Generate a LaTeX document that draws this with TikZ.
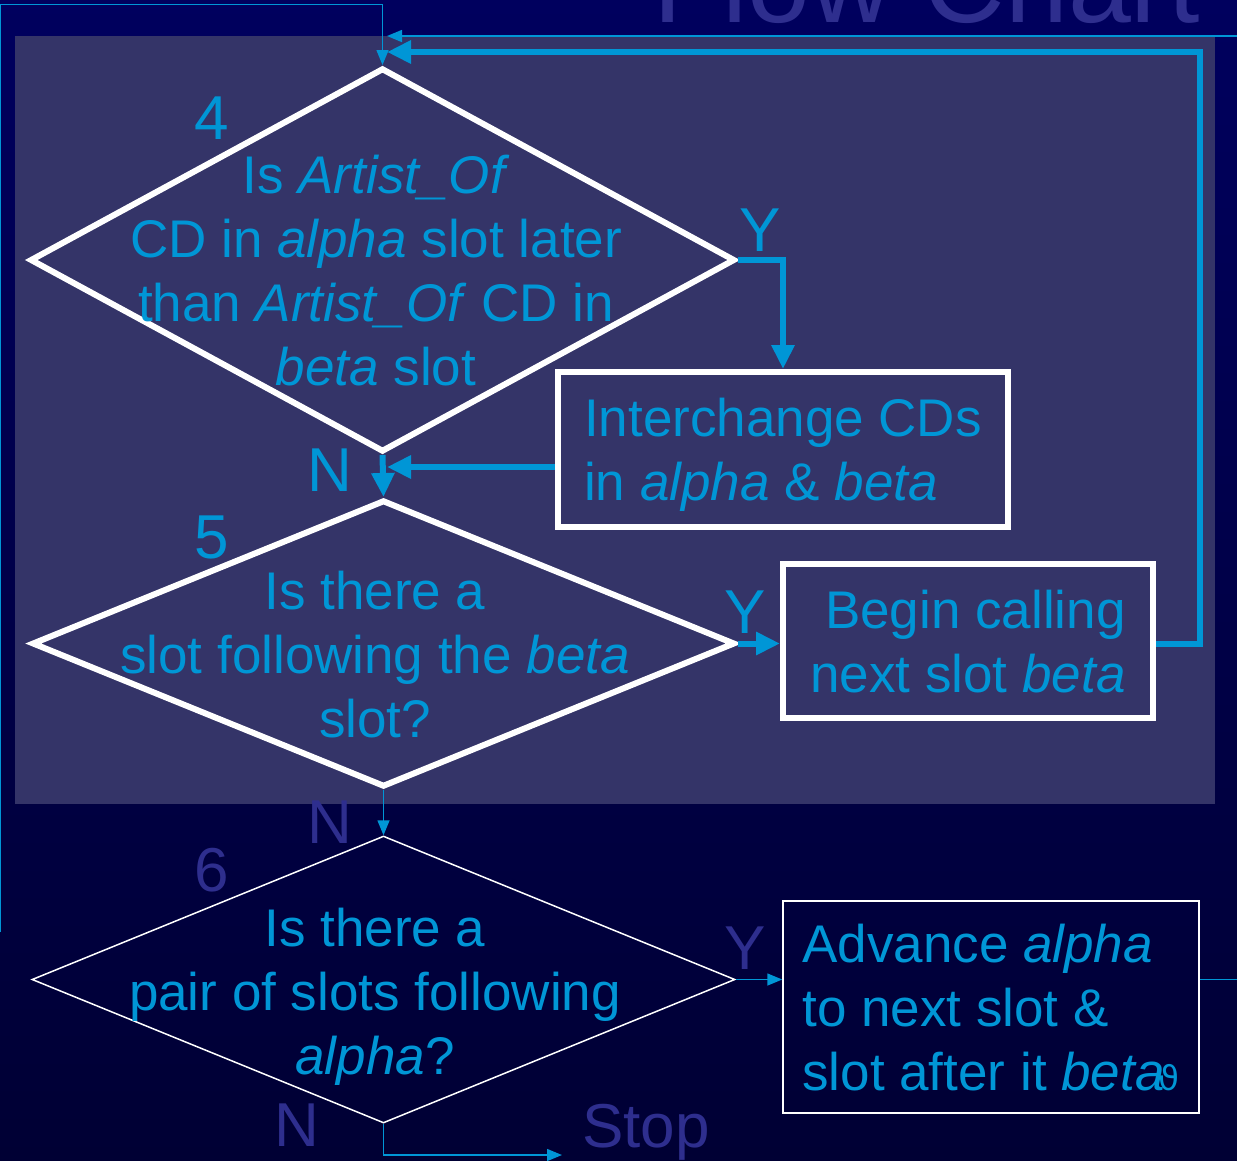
\documentclass[tikz,border=0pt]{standalone}
\usepackage{fontspec}
\setmainfont{Liberation Sans}
\newfontfamily\symfont{DejaVu Sans}
\usetikzlibrary{arrows.meta,shapes.geometric}
\definecolor{bgtop}{RGB}{0,0,94}
\definecolor{bgbot}{RGB}{0,0,52}
\definecolor{panel}{RGB}{52,52,104}
\definecolor{cdblue}{RGB}{0,150,214}
\definecolor{dimtext}{RGB}{46,46,142}
\tikzset{
  ques/.style={diamond, draw=white, line width=6pt, inner sep=0pt, minimum width=705pt, minimum height=384pt},
  qtext/.style={text=cdblue, align=center, inner sep=0pt, font=\fontsize{53}{64}\selectfont},
  act/.style={draw=white, line width=6pt, inner sep=0pt, text=cdblue, text depth=0pt, font=\fontsize{53}{64}\selectfont},
  lbl/.style={inner sep=0pt, font=\fontsize{62}{62}\selectfont},
  fatarrow/.style={draw=cdblue, line width=6pt, -{Triangle[length=24pt,width=22pt]}},
  slimarrow/.style={draw=cdblue, line width=1.5pt, -{Triangle[length=15pt,width=12pt]}},
}
\begin{document}
\begin{tikzpicture}[x=1pt,y=-1pt]
\useasboundingbox (0,0) rectangle (1237,1160);
\shade[top color=bgtop, bottom color=bgbot] (0,0) rectangle (1237,1160);
\node[anchor=base, text=dimtext, inner sep=0pt, font=\fontsize{113}{113}\selectfont] (ttl) at (927,22) {Flow Chart};
\fill[panel] (15,36) rectangle (1215,804);

\node[ques] (d4) at (382.5,260) {};
\node[ques, minimum width=703pt, minimum height=287pt] (d5) at (383.5,643.5) {};
\node[ques, line width=1.5pt, minimum width=703pt, minimum height=287pt] (d6) at (383.5,979.5) {};
\node[qtext] (q4) at (376,271) {Is \textit{Artist\_Of}\\CD in \textit{alpha} slot later\\than \textit{Artist\_Of} CD in\\\textit{beta} slot};
\node[qtext] (q5) at (375,655) {Is there a\\slot following the \textit{beta}\\slot?};
\node[qtext] (q6) at (375,997) {Is there a\\pair of slots following\\\textit{alpha}?};

\node[act, minimum width=450pt, minimum height=155pt, align=left] (ic) at (783,449.5) {Interchange CDs\\in \textit{alpha} \& \textit{beta}};
\node[act, minimum width=370pt, minimum height=154pt, align=right] (bc) at (968,641) {Begin calling\\next slot \textit{beta}};
\node[act, line width=1.5pt, minimum width=416pt, minimum height=212pt, align=left] (adv) at (991,1007) {Advance \textit{alpha}\\to next slot \&\\slot after it \textit{beta}\kern-6pt{\symfont\fontsize{34}{34}\selectfont ϑ}};

\node[lbl, text=cdblue] (n4) at (212,118) {4};
\node[lbl, text=cdblue] (n5) at (212,537) {5};
\node[lbl, text=dimtext] (n6) at (212,870) {6};
\node[lbl, text=cdblue] (y4) at (760,230) {Y};
\node[lbl, text=cdblue] (no4) at (330,470) {N};
\node[lbl, text=cdblue] (y5) at (745,612) {Y};
\node[lbl, text=dimtext] (no5) at (330,822) {N};
\node[lbl, text=dimtext] (y6) at (745,948) {Y};
\node[lbl, text=dimtext] (no6) at (297,1125) {N};
\node[lbl, text=dimtext, anchor=base west] (stop) at (582,1147) {Stop};

\coordinate (icin) at (387,467);
\coordinate (rt1) at (1200,52);
\coordinate (top1) at (387,52);
\coordinate (rt2) at (1260,36);
\coordinate (top2) at (387,36);
\coordinate (lft) at (0.5,932);
\coordinate (lftop) at (0.5,4.5);
\coordinate (stopin) at (562,1155);

\draw[fatarrow] (d4.east) -| (ic.north);
\draw[fatarrow] (ic.west |- icin) -- (icin);
\draw[fatarrow] (d4.south) -- (d5.north);
\draw[fatarrow] (d5.east) -- (d5.east -| bc.west);
\draw[fatarrow] (bc.east |- d5.east) -| (rt1) -- (top1);
\draw[slimarrow] (d5.south) -- (d6.north);
\draw[slimarrow] (d6.east) -- (d6.east -| adv.west);
\draw[slimarrow] (adv.east |- d6.east) -| (rt2) -- (top2);
\draw[slimarrow] (lft) -- (lftop) -| (d4.north);
\draw[slimarrow] (d6.south) |- (stopin);
\end{tikzpicture}
\end{document}
